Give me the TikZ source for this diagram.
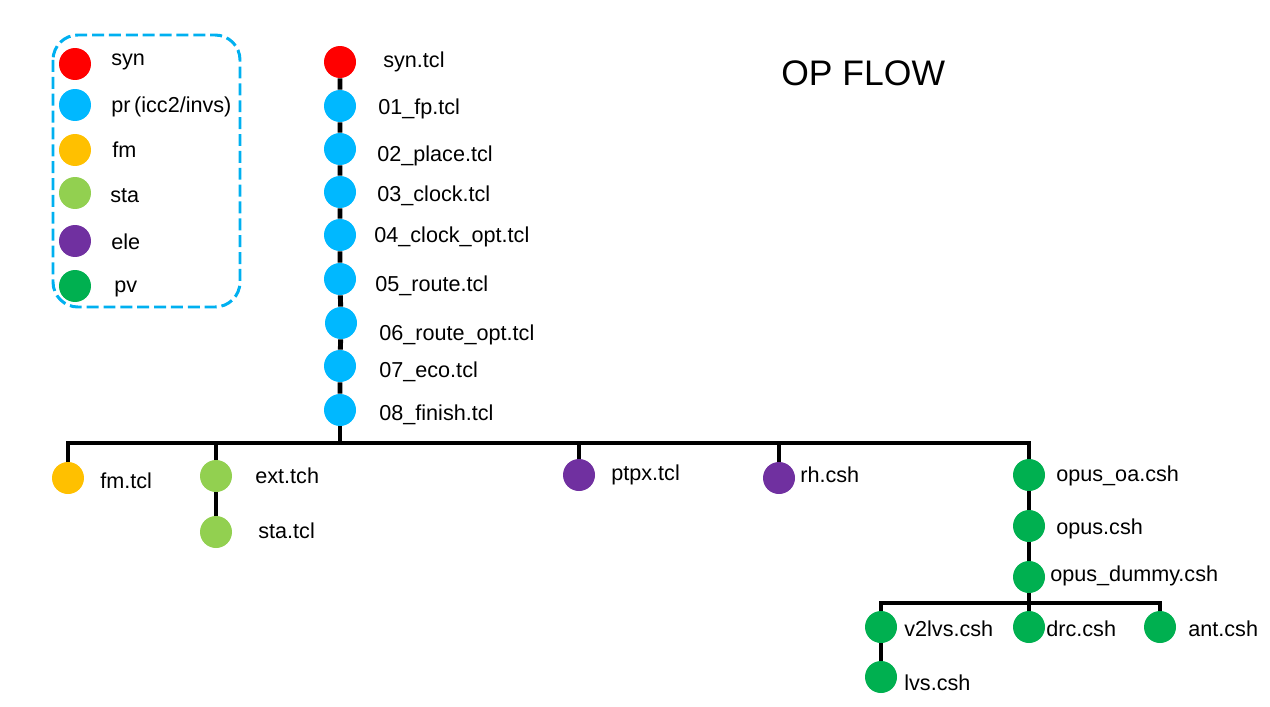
\documentclass[tikz,border=0pt]{standalone}
\usepackage{fontspec}
\setmainfont{Liberation Sans}
\definecolor{synred}{HTML}{FF0000}
\definecolor{prblue}{HTML}{00B8FF}
\definecolor{fmorange}{HTML}{FFC000}
\definecolor{stagreen}{HTML}{92D050}
\definecolor{elepurple}{HTML}{7030A0}
\definecolor{pvgreen}{HTML}{00B050}
\definecolor{boxblue}{HTML}{00B0F0}
\tikzset{
  dot/.style={circle,inner sep=0pt,minimum size=0.64cm},
  lbl/.style={anchor=west,inner sep=0pt,yshift=-1.4pt,font=\fontsize{12.3}{14}\selectfont},
  wire/.style={line width=2.8pt,black},
  legbox/.style={draw=boxblue,line width=1.7pt,dash pattern=on 6.8pt off 2.8pt,rounded corners=0.5cm}
}
\begin{document}
\begin{tikzpicture}[x=0.02cm,y=-0.02cm]
\useasboundingbox (0,0) rectangle (1270,706);
% legend
\draw[legbox](53,35) rectangle (240,307);
\node[dot,fill=synred](kSyn) at (75,64) {};
\node[lbl](kSynL) at (111,59) {syn};
\node[dot,fill=prblue](kPr) at (75,105) {};
\node[lbl](kPrL) at (111,104) {pr\,(icc2/invs)};
\node[dot,fill=fmorange](kFm) at (75,150) {};
\node[lbl](kFmL) at (112,147) {fm};
\node[dot,fill=stagreen](kSta) at (75,193) {};
\node[lbl](kStaL) at (110,193) {sta};
\node[dot,fill=elepurple](kEle) at (75,241) {};
\node[lbl](kEleL) at (111,239) {ele};
\node[dot,fill=pvgreen](kPv) at (75,286) {};
\node[lbl](kPvL) at (114,286) {pv};
\node[anchor=west,inner sep=0pt,yshift=-1.4pt,font=\fontsize{20.2}{24}\selectfont](title) at (781,71) {OP FLOW};
% main flow
\node[dot,fill=synred](syn) at (340,62) {};
\node[lbl](synL) at (383,59) {syn.tcl};
\node[dot,fill=prblue](fp) at (340,106) {};
\node[lbl](fpL) at (378,106) {01\_fp.tcl};
\node[dot,fill=prblue](place) at (340,149) {};
\node[lbl](placeL) at (377,153) {02\_place.tcl};
\node[dot,fill=prblue](clock) at (340,192) {};
\node[lbl](clockL) at (377,193) {03\_clock.tcl};
\node[dot,fill=prblue](ckopt) at (340,235) {};
\node[lbl](ckoptL) at (374,234) {04\_clock\_opt.tcl};
\node[dot,fill=prblue](route) at (340,279) {};
\node[lbl](routeL) at (375,283) {05\_route.tcl};
\node[dot,fill=prblue](rtopt) at (341,323) {};
\node[lbl](rtoptL) at (379,332) {06\_route\_opt.tcl};
\node[dot,fill=prblue](eco) at (340,366) {};
\node[lbl](ecoL) at (379,369) {07\_eco.tcl};
\node[dot,fill=prblue](finish) at (340,410) {};
\node[lbl](finishL) at (379,412) {08\_finish.tcl};
\draw[wire](syn)--(fp)--(place)--(clock)--(ckopt)--(route)--(rtopt)--(eco)--(finish);
\coordinate (bus) at (340,443);
% branches
\node[dot,fill=fmorange](fm) at (68,478) {};
\node[lbl](fmL) at (100,478) {fm.tcl};
\node[dot,fill=stagreen](ext) at (216,476) {};
\node[lbl](extL) at (255,473) {ext.tch};
\node[dot,fill=stagreen](sta) at (216,532) {};
\node[lbl](staL) at (258,528) {sta.tcl};
\node[dot,fill=elepurple](ptpx) at (579,475) {};
\node[lbl](ptpxL) at (611,472) {ptpx.tcl};
\node[dot,fill=elepurple](rh) at (779,478) {};
\node[lbl](rhL) at (800,472) {rh.csh};
\node[dot,fill=pvgreen](oa) at (1029,475) {};
\node[lbl](oaL) at (1056,473) {opus\_oa.csh};
\node[dot,fill=pvgreen](opus) at (1029,526) {};
\node[lbl](opusL) at (1056,526) {opus.csh};
\node[dot,fill=pvgreen](dummy) at (1029,577) {};
\node[lbl](dummyL) at (1050,573) {opus\_dummy.csh};
\coordinate (sub) at (1029,603);
\node[dot,fill=pvgreen](v2lvs) at (881,627) {};
\node[lbl](v2lvsL) at (904,626) {v2lvs.csh};
\node[dot,fill=pvgreen](drc) at (1029,627) {};
\node[lbl](drcL) at (1046,626) {drc.csh};
\node[dot,fill=pvgreen](ant) at (1160,627) {};
\node[lbl](antL) at (1188,626) {ant.csh};
\node[dot,fill=pvgreen](lvs) at (881,677) {};
\node[lbl](lvsL) at (904,680) {lvs.csh};
\draw[wire](fm)|-(bus)-|(oa);
\draw[wire](finish)--(bus);
\draw[wire](ext)--(ext|-bus);
\draw[wire](ext)--(sta);
\draw[wire](ptpx)--(ptpx|-bus);
\draw[wire](rh)--(rh|-bus);
\draw[wire](oa)--(opus)--(dummy);
\draw[wire](v2lvs)|-(sub)-|(ant);
\draw[wire](dummy)--(drc);
\draw[wire](v2lvs)--(lvs);
\end{tikzpicture}
\end{document}
